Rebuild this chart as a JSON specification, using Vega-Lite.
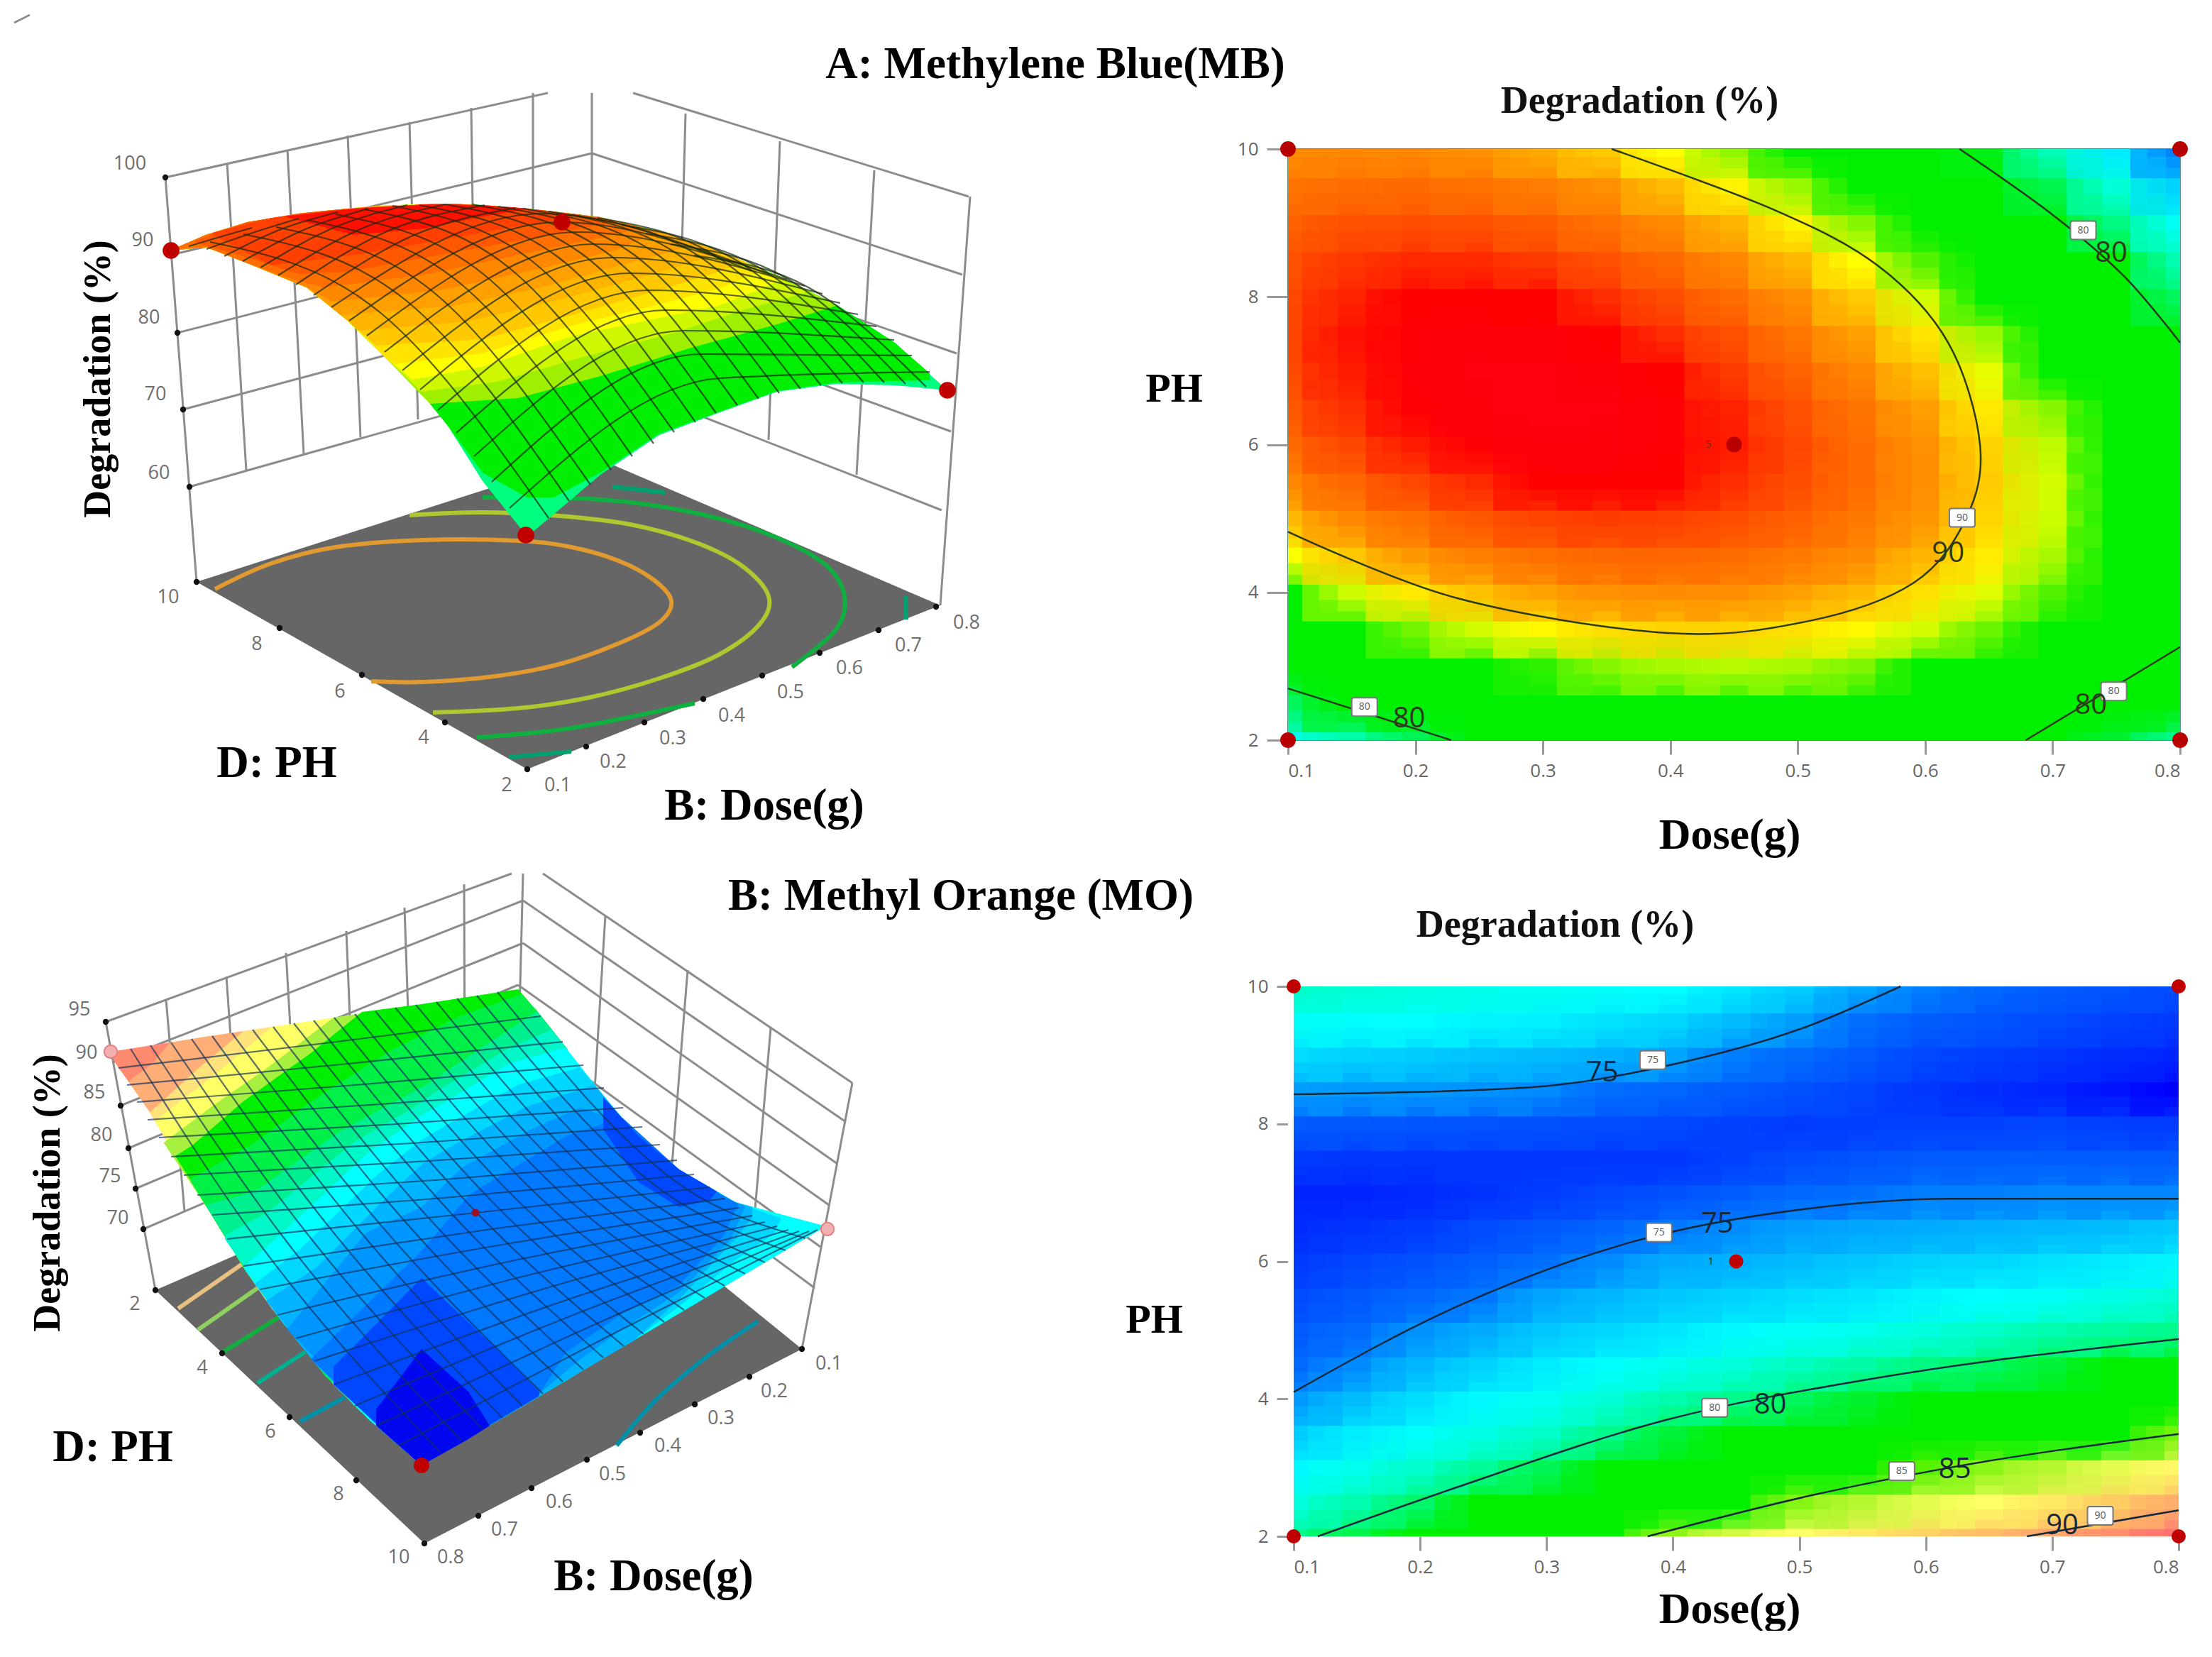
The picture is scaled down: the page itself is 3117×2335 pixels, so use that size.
{"$schema":"https://vega.github.io/schema/vega-lite/v6.json","background":"white","padding":0,"align":"none","bounds":"flush","columns":2,"spacing":{"row":347,"column":115},"resolve":{"scale":{"color":"independent"}},"config":{"view":{"stroke":null},"text":{"font":"Liberation Serif"}},
"datasets":{"heatA":[
{"b":0.1,"p":2,"d":73},{"b":0.15,"p":2,"d":75.2},{"b":0.2,"p":2,"d":77.1},{"b":0.25,"p":2,"d":78.7},{"b":0.3,"p":2,"d":80},{"b":0.35,"p":2,"d":81},{"b":0.4,"p":2,"d":81.7},{"b":0.45,"p":2,"d":82},{"b":0.5,"p":2,"d":82.1},{"b":0.55,"p":2,"d":81.8},{"b":0.6,"p":2,"d":81.3},{"b":0.65,"p":2,"d":80.4},{"b":0.7,"p":2,"d":79.2},{"b":0.75,"p":2,"d":77.7},{"b":0.8,"p":2,"d":75.9},
{"b":0.1,"p":2.5,"d":77},{"b":0.15,"p":2.5,"d":79},{"b":0.2,"p":2.5,"d":80.9},{"b":0.25,"p":2.5,"d":82.4},{"b":0.3,"p":2.5,"d":83.5},{"b":0.35,"p":2.5,"d":84.3},{"b":0.4,"p":2.5,"d":84.9},{"b":0.45,"p":2.5,"d":85.1},{"b":0.5,"p":2.5,"d":85.1},{"b":0.55,"p":2.5,"d":84.7},{"b":0.6,"p":2.5,"d":84},{"b":0.65,"p":2.5,"d":83},{"b":0.7,"p":2.5,"d":81.7},{"b":0.75,"p":2.5,"d":80},{"b":0.8,"p":2.5,"d":78.2},
{"b":0.1,"p":3,"d":80.6},{"b":0.15,"p":3,"d":82.5},{"b":0.2,"p":3,"d":84.2},{"b":0.25,"p":3,"d":85.6},{"b":0.3,"p":3,"d":86.6},{"b":0.35,"p":3,"d":87.3},{"b":0.4,"p":3,"d":87.7},{"b":0.45,"p":3,"d":87.9},{"b":0.5,"p":3,"d":87.7},{"b":0.55,"p":3,"d":87.2},{"b":0.6,"p":3,"d":86.4},{"b":0.65,"p":3,"d":85.2},{"b":0.7,"p":3,"d":83.8},{"b":0.75,"p":3,"d":82.1},{"b":0.8,"p":3,"d":80},
{"b":0.1,"p":3.5,"d":83.7},{"b":0.15,"p":3.5,"d":85.5},{"b":0.2,"p":3.5,"d":87.1},{"b":0.25,"p":3.5,"d":88.3},{"b":0.3,"p":3.5,"d":89.2},{"b":0.35,"p":3.5,"d":89.9},{"b":0.4,"p":3.5,"d":90.2},{"b":0.45,"p":3.5,"d":90.2},{"b":0.5,"p":3.5,"d":89.8},{"b":0.55,"p":3.5,"d":89.2},{"b":0.6,"p":3.5,"d":88.3},{"b":0.65,"p":3.5,"d":87},{"b":0.7,"p":3.5,"d":85.5},{"b":0.75,"p":3.5,"d":83.6},{"b":0.8,"p":3.5,"d":81.4},
{"b":0.1,"p":4,"d":86.5},{"b":0.15,"p":4,"d":88.2},{"b":0.2,"p":4,"d":89.6},{"b":0.25,"p":4,"d":90.7},{"b":0.3,"p":4,"d":91.5},{"b":0.35,"p":4,"d":92},{"b":0.4,"p":4,"d":92.2},{"b":0.45,"p":4,"d":92.1},{"b":0.5,"p":4,"d":91.6},{"b":0.55,"p":4,"d":90.9},{"b":0.6,"p":4,"d":89.8},{"b":0.65,"p":4,"d":88.5},{"b":0.7,"p":4,"d":86.8},{"b":0.75,"p":4,"d":84.8},{"b":0.8,"p":4,"d":82.5},
{"b":0.1,"p":4.5,"d":88.9},{"b":0.15,"p":4.5,"d":90.5},{"b":0.2,"p":4.5,"d":91.8},{"b":0.25,"p":4.5,"d":92.8},{"b":0.3,"p":4.5,"d":93.5},{"b":0.35,"p":4.5,"d":93.8},{"b":0.4,"p":4.5,"d":93.9},{"b":0.45,"p":4.5,"d":93.6},{"b":0.5,"p":4.5,"d":93.1},{"b":0.55,"p":4.5,"d":92.2},{"b":0.6,"p":4.5,"d":91},{"b":0.65,"p":4.5,"d":89.5},{"b":0.7,"p":4.5,"d":87.7},{"b":0.75,"p":4.5,"d":85.6},{"b":0.8,"p":4.5,"d":83.2},
{"b":0.1,"p":5,"d":90.9},{"b":0.15,"p":5,"d":92.4},{"b":0.2,"p":5,"d":93.5},{"b":0.25,"p":5,"d":94.4},{"b":0.3,"p":5,"d":95},{"b":0.35,"p":5,"d":95.2},{"b":0.4,"p":5,"d":95.1},{"b":0.45,"p":5,"d":94.7},{"b":0.5,"p":5,"d":94.1},{"b":0.55,"p":5,"d":93.1},{"b":0.6,"p":5,"d":91.8},{"b":0.65,"p":5,"d":90.1},{"b":0.7,"p":5,"d":88.2},{"b":0.75,"p":5,"d":86},{"b":0.8,"p":5,"d":83.4},
{"b":0.1,"p":5.5,"d":92.5},{"b":0.15,"p":5.5,"d":93.9},{"b":0.2,"p":5.5,"d":94.9},{"b":0.25,"p":5.5,"d":95.6},{"b":0.3,"p":5.5,"d":96},{"b":0.35,"p":5.5,"d":96.2},{"b":0.4,"p":5.5,"d":96},{"b":0.45,"p":5.5,"d":95.5},{"b":0.5,"p":5.5,"d":94.7},{"b":0.55,"p":5.5,"d":93.6},{"b":0.6,"p":5.5,"d":92.1},{"b":0.65,"p":5.5,"d":90.4},{"b":0.7,"p":5.5,"d":88.3},{"b":0.75,"p":5.5,"d":86},{"b":0.8,"p":5.5,"d":83.3},
{"b":0.1,"p":6,"d":93.7},{"b":0.15,"p":6,"d":94.9},{"b":0.2,"p":6,"d":95.8},{"b":0.25,"p":6,"d":96.4},{"b":0.3,"p":6,"d":96.7},{"b":0.35,"p":6,"d":96.7},{"b":0.4,"p":6,"d":96.4},{"b":0.45,"p":6,"d":95.8},{"b":0.5,"p":6,"d":94.9},{"b":0.55,"p":6,"d":93.6},{"b":0.6,"p":6,"d":92},{"b":0.65,"p":6,"d":90.2},{"b":0.7,"p":6,"d":88},{"b":0.75,"p":6,"d":85.5},{"b":0.8,"p":6,"d":82.8},
{"b":0.1,"p":6.5,"d":94.4},{"b":0.15,"p":6.5,"d":95.5},{"b":0.2,"p":6.5,"d":96.3},{"b":0.25,"p":6.5,"d":96.8},{"b":0.3,"p":6.5,"d":97},{"b":0.35,"p":6.5,"d":96.9},{"b":0.4,"p":6.5,"d":96.4},{"b":0.45,"p":6.5,"d":95.7},{"b":0.5,"p":6.5,"d":94.6},{"b":0.55,"p":6.5,"d":93.3},{"b":0.6,"p":6.5,"d":91.6},{"b":0.65,"p":6.5,"d":89.6},{"b":0.7,"p":6.5,"d":87.3},{"b":0.75,"p":6.5,"d":84.7},{"b":0.8,"p":6.5,"d":81.7},
{"b":0.1,"p":7,"d":94.8},{"b":0.15,"p":7,"d":95.8},{"b":0.2,"p":7,"d":96.5},{"b":0.25,"p":7,"d":96.9},{"b":0.3,"p":7,"d":96.9},{"b":0.35,"p":7,"d":96.7},{"b":0.4,"p":7,"d":96.1},{"b":0.45,"p":7,"d":95.2},{"b":0.5,"p":7,"d":94},{"b":0.55,"p":7,"d":92.5},{"b":0.6,"p":7,"d":90.7},{"b":0.65,"p":7,"d":88.6},{"b":0.7,"p":7,"d":86.2},{"b":0.75,"p":7,"d":83.4},{"b":0.8,"p":7,"d":80.4},
{"b":0.1,"p":7.5,"d":95},{"b":0.15,"p":7.5,"d":95.9},{"b":0.2,"p":7.5,"d":96.4},{"b":0.25,"p":7.5,"d":96.7},{"b":0.3,"p":7.5,"d":96.6},{"b":0.35,"p":7.5,"d":96.2},{"b":0.4,"p":7.5,"d":95.5},{"b":0.45,"p":7.5,"d":94.6},{"b":0.5,"p":7.5,"d":93.2},{"b":0.55,"p":7.5,"d":91.6},{"b":0.6,"p":7.5,"d":89.7},{"b":0.65,"p":7.5,"d":87.5},{"b":0.7,"p":7.5,"d":84.9},{"b":0.75,"p":7.5,"d":82.1},{"b":0.8,"p":7.5,"d":78.9},
{"b":0.1,"p":8,"d":94.9},{"b":0.15,"p":8,"d":95.7},{"b":0.2,"p":8,"d":96.1},{"b":0.25,"p":8,"d":96.2},{"b":0.3,"p":8,"d":96},{"b":0.35,"p":8,"d":95.5},{"b":0.4,"p":8,"d":94.7},{"b":0.45,"p":8,"d":93.6},{"b":0.5,"p":8,"d":92.1},{"b":0.55,"p":8,"d":90.4},{"b":0.6,"p":8,"d":88.3},{"b":0.65,"p":8,"d":86},{"b":0.7,"p":8,"d":83.3},{"b":0.75,"p":8,"d":80.3},{"b":0.8,"p":8,"d":77},
{"b":0.1,"p":8.5,"d":94.6},{"b":0.15,"p":8.5,"d":95.3},{"b":0.2,"p":8.5,"d":95.6},{"b":0.25,"p":8.5,"d":95.6},{"b":0.3,"p":8.5,"d":95.2},{"b":0.35,"p":8.5,"d":94.6},{"b":0.4,"p":8.5,"d":93.7},{"b":0.45,"p":8.5,"d":92.4},{"b":0.5,"p":8.5,"d":90.9},{"b":0.55,"p":8.5,"d":89},{"b":0.6,"p":8.5,"d":86.8},{"b":0.65,"p":8.5,"d":84.3},{"b":0.7,"p":8.5,"d":81.6},{"b":0.75,"p":8.5,"d":78.4},{"b":0.8,"p":8.5,"d":75},
{"b":0.1,"p":9,"d":94.1},{"b":0.15,"p":9,"d":94.6},{"b":0.2,"p":9,"d":94.7},{"b":0.25,"p":9,"d":94.6},{"b":0.3,"p":9,"d":94.2},{"b":0.35,"p":9,"d":93.4},{"b":0.4,"p":9,"d":92.3},{"b":0.45,"p":9,"d":91},{"b":0.5,"p":9,"d":89.3},{"b":0.55,"p":9,"d":87.3},{"b":0.6,"p":9,"d":85},{"b":0.65,"p":9,"d":82.4},{"b":0.7,"p":9,"d":79.4},{"b":0.75,"p":9,"d":76.2},{"b":0.8,"p":9,"d":72.7},
{"b":0.1,"p":9.5,"d":93.3},{"b":0.15,"p":9.5,"d":93.6},{"b":0.2,"p":9.5,"d":93.7},{"b":0.25,"p":9.5,"d":93.4},{"b":0.3,"p":9.5,"d":92.9},{"b":0.35,"p":9.5,"d":92},{"b":0.4,"p":9.5,"d":90.8},{"b":0.45,"p":9.5,"d":89.3},{"b":0.5,"p":9.5,"d":87.5},{"b":0.55,"p":9.5,"d":85.4},{"b":0.6,"p":9.5,"d":83},{"b":0.65,"p":9.5,"d":80.2},{"b":0.7,"p":9.5,"d":77.2},{"b":0.75,"p":9.5,"d":73.8},{"b":0.8,"p":9.5,"d":70.2},
{"b":0.1,"p":10,"d":92.2},{"b":0.15,"p":10,"d":92.5},{"b":0.2,"p":10,"d":92.4},{"b":0.25,"p":10,"d":92},{"b":0.3,"p":10,"d":91.3},{"b":0.35,"p":10,"d":90.4},{"b":0.4,"p":10,"d":89},{"b":0.45,"p":10,"d":87.4},{"b":0.5,"p":10,"d":85.5},{"b":0.55,"p":10,"d":83.3},{"b":0.6,"p":10,"d":80.7},{"b":0.65,"p":10,"d":77.9},{"b":0.7,"p":10,"d":74.7},{"b":0.75,"p":10,"d":71.2},{"b":0.8,"p":10,"d":67.5}
],"heatB":[
{"b":0.1,"p":2,"d":79.6},{"b":0.15,"p":2,"d":80.5},{"b":0.2,"p":2,"d":81.5},{"b":0.25,"p":2,"d":82.5},{"b":0.3,"p":2,"d":83.5},{"b":0.35,"p":2,"d":84.4},{"b":0.4,"p":2,"d":85.3},{"b":0.45,"p":2,"d":86.2},{"b":0.5,"p":2,"d":87},{"b":0.55,"p":2,"d":87.6},{"b":0.6,"p":2,"d":88.3},{"b":0.65,"p":2,"d":89},{"b":0.7,"p":2,"d":89.7},{"b":0.75,"p":2,"d":90.8},{"b":0.8,"p":2,"d":92},
{"b":0.1,"p":2.5,"d":78},{"b":0.15,"p":2.5,"d":79},{"b":0.2,"p":2.5,"d":80.1},{"b":0.25,"p":2.5,"d":81},{"b":0.3,"p":2.5,"d":82},{"b":0.35,"p":2.5,"d":82.7},{"b":0.4,"p":2.5,"d":83.5},{"b":0.45,"p":2.5,"d":84.3},{"b":0.5,"p":2.5,"d":85.2},{"b":0.55,"p":2.5,"d":85.8},{"b":0.6,"p":2.5,"d":86.5},{"b":0.65,"p":2.5,"d":87},{"b":0.7,"p":2.5,"d":87.6},{"b":0.75,"p":2.5,"d":88.5},{"b":0.8,"p":2.5,"d":89.5},
{"b":0.1,"p":3,"d":76.9},{"b":0.15,"p":3,"d":77.6},{"b":0.2,"p":3,"d":78.4},{"b":0.25,"p":3,"d":79.4},{"b":0.3,"p":3,"d":80.4},{"b":0.35,"p":3,"d":81.2},{"b":0.4,"p":3,"d":82},{"b":0.45,"p":3,"d":82.7},{"b":0.5,"p":3,"d":83.5},{"b":0.55,"p":3,"d":84.1},{"b":0.6,"p":3,"d":84.8},{"b":0.65,"p":3,"d":85.3},{"b":0.7,"p":3,"d":85.8},{"b":0.75,"p":3,"d":86.5},{"b":0.8,"p":3,"d":87.2},
{"b":0.1,"p":3.5,"d":76},{"b":0.15,"p":3.5,"d":76.6},{"b":0.2,"p":3.5,"d":77.2},{"b":0.25,"p":3.5,"d":77.8},{"b":0.3,"p":3.5,"d":78.5},{"b":0.35,"p":3.5,"d":79.6},{"b":0.4,"p":3.5,"d":80.7},{"b":0.45,"p":3.5,"d":81.1},{"b":0.5,"p":3.5,"d":81.6},{"b":0.55,"p":3.5,"d":82.2},{"b":0.6,"p":3.5,"d":82.9},{"b":0.65,"p":3.5,"d":83.4},{"b":0.7,"p":3.5,"d":84},{"b":0.75,"p":3.5,"d":84.5},{"b":0.8,"p":3.5,"d":85},
{"b":0.1,"p":4,"d":75.1},{"b":0.15,"p":4,"d":75.7},{"b":0.2,"p":4,"d":76.3},{"b":0.25,"p":4,"d":76.9},{"b":0.3,"p":4,"d":77.5},{"b":0.35,"p":4,"d":78.2},{"b":0.4,"p":4,"d":79},{"b":0.45,"p":4,"d":79.6},{"b":0.5,"p":4,"d":80.3},{"b":0.55,"p":4,"d":80.8},{"b":0.6,"p":4,"d":81.3},{"b":0.65,"p":4,"d":81.8},{"b":0.7,"p":4,"d":82.4},{"b":0.75,"p":4,"d":82.7},{"b":0.8,"p":4,"d":83},
{"b":0.1,"p":4.5,"d":74.2},{"b":0.15,"p":4.5,"d":74.9},{"b":0.2,"p":4.5,"d":75.6},{"b":0.25,"p":4.5,"d":76.1},{"b":0.3,"p":4.5,"d":76.6},{"b":0.35,"p":4.5,"d":77.1},{"b":0.4,"p":4.5,"d":77.6},{"b":0.45,"p":4.5,"d":78.1},{"b":0.5,"p":4.5,"d":78.7},{"b":0.55,"p":4.5,"d":79.2},{"b":0.6,"p":4.5,"d":79.8},{"b":0.65,"p":4.5,"d":80.2},{"b":0.7,"p":4.5,"d":80.7},{"b":0.75,"p":4.5,"d":81},{"b":0.8,"p":4.5,"d":81.3},
{"b":0.1,"p":5,"d":73.4},{"b":0.15,"p":5,"d":74.2},{"b":0.2,"p":5,"d":75},{"b":0.25,"p":5,"d":75.4},{"b":0.3,"p":5,"d":75.9},{"b":0.35,"p":5,"d":76.2},{"b":0.4,"p":5,"d":76.5},{"b":0.45,"p":5,"d":76.9},{"b":0.5,"p":5,"d":77.3},{"b":0.55,"p":5,"d":77.6},{"b":0.6,"p":5,"d":78},{"b":0.65,"p":5,"d":78.5},{"b":0.7,"p":5,"d":79},{"b":0.75,"p":5,"d":79.3},{"b":0.8,"p":5,"d":79.6},
{"b":0.1,"p":5.5,"d":72.7},{"b":0.15,"p":5.5,"d":73.3},{"b":0.2,"p":5.5,"d":74},{"b":0.25,"p":5.5,"d":74.6},{"b":0.3,"p":5.5,"d":75.3},{"b":0.35,"p":5.5,"d":75.6},{"b":0.4,"p":5.5,"d":75.9},{"b":0.45,"p":5.5,"d":76.1},{"b":0.5,"p":5.5,"d":76.3},{"b":0.55,"p":5.5,"d":76.5},{"b":0.6,"p":5.5,"d":76.8},{"b":0.65,"p":5.5,"d":77},{"b":0.7,"p":5.5,"d":77.3},{"b":0.75,"p":5.5,"d":77.8},{"b":0.8,"p":5.5,"d":78.2},
{"b":0.1,"p":6,"d":72.1},{"b":0.15,"p":6,"d":72.5},{"b":0.2,"p":6,"d":73},{"b":0.25,"p":6,"d":73.7},{"b":0.3,"p":6,"d":74.5},{"b":0.35,"p":6,"d":74.9},{"b":0.4,"p":6,"d":75.4},{"b":0.45,"p":6,"d":75.5},{"b":0.5,"p":6,"d":75.7},{"b":0.55,"p":6,"d":75.9},{"b":0.6,"p":6,"d":76.1},{"b":0.65,"p":6,"d":76.2},{"b":0.7,"p":6,"d":76.4},{"b":0.75,"p":6,"d":76.6},{"b":0.8,"p":6,"d":76.8},
{"b":0.1,"p":6.5,"d":71.7},{"b":0.15,"p":6.5,"d":71.9},{"b":0.2,"p":6.5,"d":72.2},{"b":0.25,"p":6.5,"d":72.7},{"b":0.3,"p":6.5,"d":73.3},{"b":0.35,"p":6.5,"d":73.9},{"b":0.4,"p":6.5,"d":74.6},{"b":0.45,"p":6.5,"d":74.9},{"b":0.5,"p":6.5,"d":75.2},{"b":0.55,"p":6.5,"d":75.3},{"b":0.6,"p":6.5,"d":75.4},{"b":0.65,"p":6.5,"d":75.5},{"b":0.7,"p":6.5,"d":75.6},{"b":0.75,"p":6.5,"d":75.7},{"b":0.8,"p":6.5,"d":75.9},
{"b":0.1,"p":7,"d":71.5},{"b":0.15,"p":7,"d":71.5},{"b":0.2,"p":7,"d":71.6},{"b":0.25,"p":7,"d":71.9},{"b":0.3,"p":7,"d":72.2},{"b":0.35,"p":7,"d":72.6},{"b":0.4,"p":7,"d":73},{"b":0.45,"p":7,"d":73.5},{"b":0.5,"p":7,"d":74.1},{"b":0.55,"p":7,"d":74.4},{"b":0.6,"p":7,"d":74.7},{"b":0.65,"p":7,"d":74.7},{"b":0.7,"p":7,"d":74.8},{"b":0.75,"p":7,"d":74.8},{"b":0.8,"p":7,"d":74.8},
{"b":0.1,"p":7.5,"d":72.1},{"b":0.15,"p":7.5,"d":72},{"b":0.2,"p":7.5,"d":72},{"b":0.25,"p":7.5,"d":72},{"b":0.3,"p":7.5,"d":72},{"b":0.35,"p":7.5,"d":72},{"b":0.4,"p":7.5,"d":72},{"b":0.45,"p":7.5,"d":72.4},{"b":0.5,"p":7.5,"d":72.8},{"b":0.55,"p":7.5,"d":73.1},{"b":0.6,"p":7.5,"d":73.4},{"b":0.65,"p":7.5,"d":73.5},{"b":0.7,"p":7.5,"d":73.6},{"b":0.75,"p":7.5,"d":73.5},{"b":0.8,"p":7.5,"d":73.5},
{"b":0.1,"p":8,"d":73.4},{"b":0.15,"p":8,"d":73.3},{"b":0.2,"p":8,"d":73.2},{"b":0.25,"p":8,"d":73.1},{"b":0.3,"p":8,"d":73},{"b":0.35,"p":8,"d":72.8},{"b":0.4,"p":8,"d":72.6},{"b":0.45,"p":8,"d":72.4},{"b":0.5,"p":8,"d":72.2},{"b":0.55,"p":8,"d":72.3},{"b":0.6,"p":8,"d":72.4},{"b":0.65,"p":8,"d":72.4},{"b":0.7,"p":8,"d":72.5},{"b":0.75,"p":8,"d":72.3},{"b":0.8,"p":8,"d":72.2},
{"b":0.1,"p":8.5,"d":75.2},{"b":0.15,"p":8.5,"d":75.1},{"b":0.2,"p":8.5,"d":75.1},{"b":0.25,"p":8.5,"d":75},{"b":0.3,"p":8.5,"d":74.9},{"b":0.35,"p":8.5,"d":74.4},{"b":0.4,"p":8.5,"d":74},{"b":0.45,"p":8.5,"d":73.5},{"b":0.5,"p":8.5,"d":73},{"b":0.55,"p":8.5,"d":72.5},{"b":0.6,"p":8.5,"d":72},{"b":0.65,"p":8.5,"d":71.7},{"b":0.7,"p":8.5,"d":71.5},{"b":0.75,"p":8.5,"d":71.2},{"b":0.8,"p":8.5,"d":71},
{"b":0.1,"p":9,"d":76.3},{"b":0.15,"p":9,"d":76.1},{"b":0.2,"p":9,"d":76},{"b":0.25,"p":9,"d":75.8},{"b":0.3,"p":9,"d":75.7},{"b":0.35,"p":9,"d":75.5},{"b":0.4,"p":9,"d":75.3},{"b":0.45,"p":9,"d":74.7},{"b":0.5,"p":9,"d":74.2},{"b":0.55,"p":9,"d":73.4},{"b":0.6,"p":9,"d":72.6},{"b":0.65,"p":9,"d":72.3},{"b":0.7,"p":9,"d":72},{"b":0.75,"p":9,"d":71.7},{"b":0.8,"p":9,"d":71.5},
{"b":0.1,"p":9.5,"d":77.3},{"b":0.15,"p":9.5,"d":77.1},{"b":0.2,"p":9.5,"d":77},{"b":0.25,"p":9.5,"d":76.8},{"b":0.3,"p":9.5,"d":76.7},{"b":0.35,"p":9.5,"d":76.4},{"b":0.4,"p":9.5,"d":76.2},{"b":0.45,"p":9.5,"d":75.7},{"b":0.5,"p":9.5,"d":75.2},{"b":0.55,"p":9.5,"d":74.4},{"b":0.6,"p":9.5,"d":73.6},{"b":0.65,"p":9.5,"d":73.2},{"b":0.7,"p":9.5,"d":72.8},{"b":0.75,"p":9.5,"d":72.4},{"b":0.8,"p":9.5,"d":72.1},
{"b":0.1,"p":10,"d":78.5},{"b":0.15,"p":10,"d":78.2},{"b":0.2,"p":10,"d":78},{"b":0.25,"p":10,"d":77.7},{"b":0.3,"p":10,"d":77.5},{"b":0.35,"p":10,"d":77.2},{"b":0.4,"p":10,"d":77},{"b":0.45,"p":10,"d":76.5},{"b":0.5,"p":10,"d":76},{"b":0.55,"p":10,"d":75.3},{"b":0.6,"p":10,"d":74.7},{"b":0.65,"p":10,"d":74.1},{"b":0.7,"p":10,"d":73.5},{"b":0.75,"p":10,"d":73.1},{"b":0.8,"p":10,"d":72.8}
]},
"concat":[
{"width":1700,"height":833,"resolve":{"scale":{"color":"independent"}},"encoding":{"x":{"field":"x","type":"quantitative","scale":{"domain":[0,1700],"nice":false,"zero":false},"axis":null},"y":{"field":"y","type":"quantitative","scale":{"domain":[1042,209],"nice":false,"zero":false},"axis":null}},"layer":[
{"data":{"values":[{"x":0,"y":0,"x2":1700,"y2":1170}]},"mark":{"type":"rect","fill":"white"},"encoding":{"x2":{"field":"x2"},"y2":{"field":"y2"}}},
{"data":{"values":[{"g":"m","x":20,"y":31},{"g":"m","x":42,"y":20},{"g":"l100","x":233,"y":249},{"g":"l100","x":772,"y":130},{"g":"l90","x":242,"y":358},{"g":"l90","x":834,"y":215},{"g":"l80","x":250,"y":468},{"g":"l80","x":834,"y":318},{"g":"l70","x":258,"y":576},{"g":"l70","x":834,"y":422},{"g":"l60","x":267,"y":685},{"g":"l60","x":834,"y":525},{"g":"r100","x":892,"y":130},{"g":"r100","x":1365,"y":276},{"g":"r90","x":834,"y":215},{"g":"r90","x":1356,"y":386},{"g":"r80","x":834,"y":318},{"g":"r80","x":1348,"y":497},{"g":"r70","x":834,"y":422},{"g":"r70","x":1340,"y":607},{"g":"r60","x":834,"y":525},{"g":"r60","x":1327,"y":718},{"g":"c1","x":233,"y":249},{"g":"c1","x":277,"y":819},{"g":"c2","x":834,"y":130},{"g":"c2","x":834,"y":641},{"g":"c3","x":1367,"y":276},{"g":"c3","x":1325,"y":852},{"g":"v1","x":320,"y":229},{"g":"v1","x":347,"y":662},{"g":"v2","x":405,"y":210},{"g":"v2","x":428,"y":639},{"g":"v3","x":490,"y":190},{"g":"v3","x":508,"y":615},{"g":"v4","x":577,"y":171},{"g":"v4","x":589,"y":590},{"g":"v5","x":664,"y":151},{"g":"v5","x":670,"y":571},{"g":"v6","x":751,"y":130},{"g":"v6","x":751,"y":548},{"g":"w1","x":966,"y":159},{"g":"w1","x":955,"y":572},{"g":"w2","x":1099,"y":198},{"g":"w2","x":1083,"y":619},{"g":"w3","x":1232,"y":239},{"g":"w3","x":1207,"y":668}]},"mark":{"type":"line","color":"#8c8c8c","strokeWidth":3},"encoding":{"detail":{"field":"g"}}},
{"data":{"values":[{"x":277,"y":819,"y2":819},{"x":743,"y":670,"y2":1083},{"x":833,"y":641,"y2":1047},{"x":1325,"y":852,"y2":852}]},"mark":{"type":"area","color":"#666666"},"encoding":{"y2":{"field":"y2"}}},
{"data":{"values":[{"g":"o","d":92,"x":303,"y":829},{"g":"o","d":92,"x":382,"y":793},{"g":"o","d":92,"x":473,"y":770},{"g":"o","d":92,"x":597,"y":760},{"g":"o","d":92,"x":730,"y":761},{"g":"o","d":92,"x":805,"y":770},{"g":"o","d":92,"x":871,"y":789},{"g":"o","d":92,"x":921,"y":816},{"g":"o","d":92,"x":946,"y":846},{"g":"o","d":92,"x":929,"y":876},{"g":"o","d":92,"x":871,"y":906},{"g":"o","d":92,"x":788,"y":935},{"g":"o","d":92,"x":697,"y":952},{"g":"o","d":92,"x":597,"y":960},{"g":"o","d":92,"x":523,"y":959},{"g":"y","d":88,"x":577,"y":725},{"g":"y","d":88,"x":680,"y":721},{"g":"y","d":88,"x":788,"y":726},{"g":"y","d":88,"x":888,"y":738},{"g":"y","d":88,"x":979,"y":763},{"g":"y","d":88,"x":1045,"y":796},{"g":"y","d":88,"x":1083,"y":839},{"g":"y","d":88,"x":1070,"y":879},{"g":"y","d":88,"x":1012,"y":922},{"g":"y","d":88,"x":929,"y":955},{"g":"y","d":88,"x":830,"y":982},{"g":"y","d":88,"x":730,"y":997},{"g":"y","d":88,"x":610,"y":1003},{"g":"g1","d":83,"x":680,"y":700},{"g":"g1","d":83,"x":846,"y":703},{"g":"g1","d":83,"x":971,"y":720},{"g":"g1","d":83,"x":1078,"y":750},{"g":"g1","d":83,"x":1161,"y":793},{"g":"g1","d":83,"x":1190,"y":839},{"g":"g1","d":83,"x":1178,"y":886},{"g":"g1","d":83,"x":1116,"y":939},{"g":"g2","d":83,"x":672,"y":1038},{"g":"g2","d":83,"x":805,"y":1025},{"g":"g2","d":83,"x":979,"y":990},{"g":"t1","d":78,"x":863,"y":685},{"g":"t1","d":78,"x":937,"y":693},{"g":"t2","d":78,"x":1277,"y":839},{"g":"t2","d":78,"x":1277,"y":872},{"g":"t3","d":78,"x":718,"y":1066},{"g":"t3","d":78,"x":805,"y":1058}]},"mark":{"type":"line","strokeWidth":6,"interpolate":"cardinal"},"encoding":{"detail":{"field":"g"},"order":{"value":null},"color":{"field":"d","type":"ordinal","legend":null,"scale":{"domain":[92,88,83,78],"range":["#e09a30","#b0c830","#10b040","#00a070"]}}}},
{"data":{"values":[
{"d":74,"x":241,"y":352,"y2":352},{"d":74,"x":290,"y":330,"y2":347},{"d":74,"x":349,"y":312,"y2":370},{"d":74,"x":432,"y":299,"y2":404},{"d":74,"x":490,"y":293,"y2":451},{"d":74,"x":539,"y":289,"y2":499},{"d":74,"x":589,"y":287,"y2":547},{"d":74,"x":631,"y":286,"y2":599},{"d":74,"x":680,"y":288,"y2":677},{"d":74,"x":743,"y":293,"y2":755},{"d":74,"x":780,"y":297,"y2":724},{"d":74,"x":846,"y":305,"y2":668},{"d":74,"x":929,"y":325,"y2":612},{"d":74,"x":1012,"y":352,"y2":581},{"d":74,"x":1095,"y":387,"y2":551},{"d":74,"x":1178,"y":428,"y2":540},{"d":74,"x":1261,"y":482,"y2":542},{"d":74,"x":1335,"y":549,"y2":549},
{"d":78,"x":241,"y":352,"y2":352},{"d":78,"x":290,"y":330,"y2":347},{"d":78,"x":349,"y":312,"y2":370},{"d":78,"x":432,"y":299,"y2":404},{"d":78,"x":490,"y":293,"y2":451},{"d":78,"x":539,"y":289,"y2":499},{"d":78,"x":589,"y":287,"y2":547},{"d":78,"x":631,"y":286,"y2":599},{"d":78,"x":680,"y":288,"y2":665},{"d":78,"x":743,"y":293,"y2":700},{"d":78,"x":780,"y":297,"y2":700},{"d":78,"x":846,"y":305,"y2":665},{"d":78,"x":929,"y":325,"y2":610},{"d":78,"x":1012,"y":352,"y2":580},{"d":78,"x":1095,"y":387,"y2":550},{"d":78,"x":1178,"y":428,"y2":538},{"d":78,"x":1261,"y":482,"y2":536},{"d":78,"x":1310,"y":525,"y2":535},
{"d":84,"x":241,"y":352,"y2":352},{"d":84,"x":290,"y":330,"y2":347},{"d":84,"x":349,"y":312,"y2":370},{"d":84,"x":432,"y":299,"y2":404},{"d":84,"x":490,"y":293,"y2":451},{"d":84,"x":539,"y":289,"y2":499},{"d":84,"x":606,"y":287,"y2":568},{"d":84,"x":730,"y":292,"y2":560},{"d":84,"x":846,"y":305,"y2":529},{"d":84,"x":971,"y":338,"y2":490},{"d":84,"x":1095,"y":387,"y2":456},{"d":84,"x":1178,"y":428,"y2":430},
{"d":85.5,"x":241,"y":352,"y2":352},{"d":85.5,"x":290,"y":330,"y2":347},{"d":85.5,"x":349,"y":312,"y2":370},{"d":85.5,"x":432,"y":299,"y2":404},{"d":85.5,"x":490,"y":293,"y2":451},{"d":85.5,"x":539,"y":289,"y2":499},{"d":85.5,"x":594,"y":287,"y2":551},{"d":85.5,"x":700,"y":290,"y2":537},{"d":85.5,"x":825,"y":303,"y2":501},{"d":85.5,"x":950,"y":332,"y2":468},{"d":85.5,"x":1050,"y":370,"y2":435},{"d":85.5,"x":1140,"y":410,"y2":410},
{"d":87,"x":241,"y":352,"y2":352},{"d":87,"x":290,"y":330,"y2":347},{"d":87,"x":349,"y":312,"y2":370},{"d":87,"x":432,"y":299,"y2":404},{"d":87,"x":490,"y":293,"y2":451},{"d":87,"x":539,"y":289,"y2":499},{"d":87,"x":581,"y":287,"y2":534},{"d":87,"x":680,"y":288,"y2":516},{"d":87,"x":805,"y":300,"y2":473},{"d":87,"x":929,"y":325,"y2":447},{"d":87,"x":1012,"y":352,"y2":430},{"d":87,"x":1078,"y":380,"y2":404},{"d":87,"x":1103,"y":392,"y2":392},
{"d":88,"x":241,"y":352,"y2":352},{"d":88,"x":290,"y":330,"y2":347},{"d":88,"x":349,"y":312,"y2":370},{"d":88,"x":432,"y":299,"y2":404},{"d":88,"x":490,"y":293,"y2":451},{"d":88,"x":539,"y":289,"y2":499},{"d":88,"x":556,"y":288,"y2":512},{"d":88,"x":680,"y":288,"y2":497},{"d":88,"x":805,"y":300,"y2":458},{"d":88,"x":929,"y":325,"y2":428},{"d":88,"x":1012,"y":352,"y2":406},{"d":88,"x":1075,"y":379,"y2":380},
{"d":89,"x":241,"y":352,"y2":352},{"d":89,"x":290,"y":330,"y2":347},{"d":89,"x":349,"y":312,"y2":370},{"d":89,"x":432,"y":299,"y2":404},{"d":89,"x":490,"y":293,"y2":451},{"d":89,"x":530,"y":289,"y2":486},{"d":89,"x":680,"y":288,"y2":477},{"d":89,"x":805,"y":300,"y2":443},{"d":89,"x":929,"y":325,"y2":408},{"d":89,"x":1012,"y":352,"y2":382},{"d":89,"x":1050,"y":368,"y2":368},
{"d":90,"x":241,"y":352,"y2":352},{"d":90,"x":290,"y":330,"y2":347},{"d":90,"x":349,"y":312,"y2":370},{"d":90,"x":432,"y":299,"y2":404},{"d":90,"x":490,"y":293,"y2":451},{"d":90,"x":505,"y":292,"y2":465},{"d":90,"x":660,"y":287,"y2":452},{"d":90,"x":785,"y":298,"y2":422},{"d":90,"x":910,"y":321,"y2":388},{"d":90,"x":990,"y":345,"y2":364},{"d":90,"x":1020,"y":355,"y2":355},
{"d":91,"x":241,"y":352,"y2":352},{"d":91,"x":290,"y":330,"y2":347},{"d":91,"x":349,"y":312,"y2":370},{"d":91,"x":432,"y":299,"y2":404},{"d":91,"x":480,"y":294,"y2":443},{"d":91,"x":639,"y":286,"y2":430},{"d":91,"x":763,"y":295,"y2":404},{"d":91,"x":888,"y":315,"y2":369},{"d":91,"x":971,"y":338,"y2":347},{"d":91,"x":990,"y":345,"y2":345},
{"d":92,"x":241,"y":352,"y2":352},{"d":92,"x":290,"y":330,"y2":347},{"d":92,"x":349,"y":312,"y2":370},{"d":92,"x":432,"y":299,"y2":404},{"d":92,"x":468,"y":295,"y2":424},{"d":92,"x":620,"y":286,"y2":408},{"d":92,"x":742,"y":293,"y2":382},{"d":92,"x":866,"y":310,"y2":352},{"d":92,"x":930,"y":326,"y2":326},
{"d":93,"x":250,"y":347,"y2":350},{"d":93,"x":290,"y":330,"y2":347},{"d":93,"x":349,"y":312,"y2":370},{"d":93,"x":420,"y":300,"y2":395},{"d":93,"x":457,"y":296,"y2":404},{"d":93,"x":598,"y":287,"y2":386},{"d":93,"x":722,"y":291,"y2":360},{"d":93,"x":846,"y":305,"y2":334},{"d":93,"x":905,"y":320,"y2":320},
{"d":94,"x":275,"y":338,"y2":340},{"d":94,"x":349,"y":312,"y2":362},{"d":94,"x":420,"y":300,"y2":385},{"d":94,"x":490,"y":293,"y2":382},{"d":94,"x":620,"y":286,"y2":358},{"d":94,"x":742,"y":293,"y2":336},{"d":94,"x":834,"y":304,"y2":318},{"d":94,"x":870,"y":311,"y2":311},
{"d":95,"x":300,"y":327,"y2":330},{"d":95,"x":382,"y":306,"y2":373},{"d":95,"x":515,"y":291,"y2":356},{"d":95,"x":639,"y":286,"y2":334},{"d":95,"x":763,"y":295,"y2":312},{"d":95,"x":821,"y":302,"y2":302},
{"d":97,"x":400,"y":304,"y2":304},{"d":97,"x":498,"y":293,"y2":330},{"d":97,"x":598,"y":287,"y2":321},{"d":97,"x":680,"y":288,"y2":304},{"d":97,"x":747,"y":293,"y2":293}
]},"mark":{"type":"area"},"encoding":{"y2":{"field":"y2"},"color":{"field":"d","type":"ordinal","legend":null,"scale":{"domain":[74,78,84,85.5,87,88,89,90,91,92,93,94,95,97],"range":["#00ff7f","#00ee00","#9ff000","#cff800","#ffff00","#ffe400","#ffc800","#ffb400","#ffa000","#ff8800","#ff7000","#ff5800","#ff4000","#ff1000"]}}}},
{"data":{"values":[
{"g":"a1","x":773,"y":729},{"g":"a1","x":534,"y":438},{"g":"a1","x":296,"y":340},{"g":"a2","x":802,"y":705},{"g":"a2","x":573,"y":423},{"g":"a2","x":343,"y":329},{"g":"a3","x":832,"y":682},{"g":"a3","x":610,"y":410},{"g":"a3","x":389,"y":319},{"g":"a4","x":861,"y":661},{"g":"a4","x":647,"y":397},{"g":"a4","x":432,"y":309},{"g":"a5","x":891,"y":642},{"g":"a5","x":682,"y":386},{"g":"a5","x":473,"y":301},{"g":"a6","x":921,"y":624},{"g":"a6","x":717,"y":376},{"g":"a6","x":514,"y":294},{"g":"a7","x":950,"y":608},{"g":"a7","x":751,"y":368},{"g":"a7","x":553,"y":289},{"g":"a8","x":980,"y":594},{"g":"a8","x":786,"y":361},{"g":"a8","x":591,"y":288},{"g":"a9","x":1009,"y":581},{"g":"a9","x":819,"y":356},{"g":"a9","x":628,"y":287},{"g":"a10","x":1039,"y":570},{"g":"a10","x":852,"y":353},{"g":"a10","x":665,"y":287},{"g":"a11","x":1069,"y":561},{"g":"a11","x":885,"y":352},{"g":"a11","x":702,"y":290},{"g":"a12","x":1098,"y":553},{"g":"a12","x":918,"y":352},{"g":"a12","x":737,"y":293},{"g":"a13","x":1128,"y":547},{"g":"a13","x":950,"y":354},{"g":"a13","x":773,"y":297},{"g":"a14","x":1157,"y":542},{"g":"a14","x":982,"y":358},{"g":"a14","x":807,"y":302},{"g":"a15","x":1187,"y":539},{"g":"a15","x":1015,"y":364},{"g":"a15","x":842,"y":306},{"g":"a16","x":1217,"y":538},{"g":"a16","x":1046,"y":371},{"g":"a16","x":876,"y":316},{"g":"a17","x":1246,"y":538},{"g":"a17","x":1078,"y":381},{"g":"a17","x":910,"y":328},{"g":"a18","x":1276,"y":540},{"g":"a18","x":1110,"y":392},{"g":"a18","x":945,"y":343},{"g":"a19","x":1305,"y":544},{"g":"a19","x":1141,"y":405},{"g":"a19","x":978,"y":359},
{"g":"b1","x":718,"y":715},{"g":"b1","x":1014,"y":532},{"g":"b1","x":1310,"y":523},{"g":"b2","x":693,"y":678},{"g":"b2","x":989,"y":498},{"g":"b2","x":1285,"y":500},{"g":"b3","x":668,"y":642},{"g":"b3","x":964,"y":465},{"g":"b3","x":1260,"y":478},{"g":"b4","x":643,"y":609},{"g":"b4","x":939,"y":436},{"g":"b4","x":1235,"y":459},{"g":"b5","x":617,"y":577},{"g":"b5","x":913,"y":408},{"g":"b5","x":1209,"y":442},{"g":"b6","x":592,"y":548},{"g":"b6","x":888,"y":384},{"g":"b6","x":1184,"y":426},{"g":"b7","x":567,"y":521},{"g":"b7","x":863,"y":362},{"g":"b7","x":1159,"y":413},{"g":"b8","x":542,"y":495},{"g":"b8","x":838,"y":343},{"g":"b8","x":1134,"y":402},{"g":"b9","x":517,"y":472},{"g":"b9","x":813,"y":326},{"g":"b9","x":1109,"y":393},{"g":"b10","x":492,"y":451},{"g":"b10","x":788,"y":312},{"g":"b10","x":1084,"y":386},{"g":"b11","x":467,"y":432},{"g":"b11","x":763,"y":300},{"g":"b11","x":1059,"y":381},{"g":"b12","x":442,"y":415},{"g":"b12","x":584,"y":330},{"g":"b12","x":726,"y":292},{"g":"b13","x":417,"y":400},{"g":"b13","x":550,"y":323},{"g":"b13","x":683,"y":288},{"g":"b14","x":392,"y":387},{"g":"b14","x":510,"y":321},{"g":"b14","x":628,"y":287},{"g":"b15","x":367,"y":376},{"g":"b15","x":470,"y":320},{"g":"b15","x":574,"y":288},{"g":"b16","x":342,"y":367},{"g":"b16","x":430,"y":322},{"g":"b16","x":519,"y":293},{"g":"b17","x":316,"y":360},{"g":"b17","x":396,"y":322},{"g":"b17","x":476,"y":298},{"g":"b18","x":291,"y":350},{"g":"b18","x":356,"y":327},{"g":"b18","x":421,"y":307},{"g":"b19","x":266,"y":346},{"g":"b19","x":313,"y":332},{"g":"b19","x":355,"y":320}
]},"mark":{"type":"line","color":"#1a2a10","opacity":0.72,"strokeWidth":2.2,"interpolate":"monotone"},"encoding":{"detail":{"field":"g"}}},
{"data":{"values":[{"x":277,"y":819},{"x":394,"y":884},{"x":510,"y":950},{"x":627,"y":1017},{"x":743,"y":1083},{"x":826,"y":1051},{"x":908,"y":1017},{"x":991,"y":984},{"x":1074,"y":951},{"x":1155,"y":919},{"x":1238,"y":887},{"x":1319,"y":854},{"x":233,"y":249},{"x":250,"y":468},{"x":258,"y":576},{"x":267,"y":685}]},"mark":{"type":"point","filled":true,"color":"#111111","size":70,"opacity":1}},
{"data":{"values":[{"x":241,"y":352},{"x":792,"y":312},{"x":1335,"y":549},{"x":741,"y":753}]},"mark":{"type":"point","filled":true,"color":"#c00000","size":560,"opacity":1}},
{"data":{"values":[{"t":"10","x":237,"y":841},{"t":"8","x":362,"y":907},{"t":"6","x":479,"y":974},{"t":"4","x":597,"y":1039},{"t":"2","x":714,"y":1106},{"t":"0.1","x":786,"y":1106},{"t":"0.2","x":864,"y":1073},{"t":"0.3","x":948,"y":1040},{"t":"0.4","x":1031,"y":1008},{"t":"0.5","x":1114,"y":975},{"t":"0.6","x":1197,"y":941},{"t":"0.7","x":1280,"y":909},{"t":"0.8","x":1362,"y":877},{"t":"100","x":183,"y":230},{"t":"90","x":201,"y":338},{"t":"80","x":210,"y":447},{"t":"70","x":219,"y":555},{"t":"60","x":224,"y":666}]},"mark":{"type":"text","font":"Open Sans","fontSize":27,"color":"#6e6e6e","baseline":"middle"},"encoding":{"text":{"field":"t"}}},
{"data":{"values":[{"t":"A: Methylene Blue(MB)","x":1487,"y":90},{"t":"D: PH","x":390,"y":1075},{"t":"B: Dose(g)","x":1077,"y":1135}]},"mark":{"type":"text","font":"Liberation Serif","fontWeight":"bold","fontSize":63,"color":"#000000","baseline":"middle"},"encoding":{"text":{"field":"t"}}},
{"data":{"values":[{"t":"Degradation (%)","x":139,"y":533}]},"mark":{"type":"text","font":"Liberation Serif","fontWeight":"bold","fontSize":54,"angle":270,"color":"#000000","baseline":"middle"},"encoding":{"text":{"field":"t"}}}
]},
{"width":1257,"height":833,"title":{"text":"Degradation (%)","font":"Liberation Serif","fontWeight":"bold","fontSize":54,"color":"#111111","anchor":"middle","dx":-133,"offset":27},"view":{"stroke":"#5a8a8a","strokeWidth":2},"encoding":{"x":{"field":"b","type":"quantitative","scale":{"domain":[0.1,0.8],"nice":false,"zero":false},"axis":{"values":[0.1,0.2,0.3,0.4,0.5,0.6,0.7,0.8],"format":".1f","grid":false,"title":"Dose(g)","titleFont":"Liberation Serif","titleFontWeight":"bold","titleFontSize":62,"titleColor":"#000000","titleX":622,"titleY":133,"titleBaseline":"middle","labelFont":"Open Sans","labelFontSize":26,"labelColor":"#666666","tickSize":20,"tickColor":"#999999","tickWidth":3,"domain":false,"labelPadding":10}},"y":{"field":"p","type":"quantitative","scale":{"domain":[2,10],"nice":false,"zero":false},"axis":{"values":[2,4,6,8,10],"grid":false,"title":"PH","titleFont":"Liberation Serif","titleFontWeight":"bold","titleFontSize":58,"titleColor":"#000000","titleAngle":0,"titleX":-161,"titleY":338,"titleAlign":"center","titleBaseline":"middle","labelFont":"Open Sans","labelFontSize":26,"labelColor":"#666666","tickSize":30,"tickColor":"#999999","tickWidth":3,"domain":false,"labelPadding":12}}},"layer":[
{"data":{"name":"heatA"},"mark":{"type":"rect","width":92,"height":54,"clip":true},"encoding":{"color":{"field":"d","type":"quantitative","legend":null,"scale":{"domain":[67,72,78,86.5,89,92,96],"range":["#0070ff","#00ffff","#00f000","#00f000","#ffff00","#ff9000","#ff0000"]}}}},
{"data":{"name":"heatA"},"mark":{"type":"rect","width":140,"height":82,"clip":true,"opacity":0.5},"encoding":{"color":{"field":"d","type":"quantitative","legend":null,"scale":{"domain":[67,72,78,86.5,89,92,96],"range":["#0070ff","#00ffff","#00f000","#00f000","#ffff00","#ff9000","#ff0000"]}}}},
{"data":{"values":[{"g":"90","b":0.1,"p":4.82},{"g":"90","b":0.233,"p":3.92},{"g":"90","b":0.398,"p":3.45},{"g":"90","b":0.508,"p":3.61},{"g":"90","b":0.591,"p":4.13},{"g":"90","b":0.632,"p":5},{"g":"90","b":0.643,"p":6},{"g":"90","b":0.618,"p":7.38},{"g":"90","b":0.563,"p":8.42},{"g":"90","b":0.481,"p":9.18},{"g":"90","b":0.354,"p":10},{"g":"80a","b":0.627,"p":10},{"g":"80a","b":0.7,"p":9.11},{"g":"80a","b":0.756,"p":8.28},{"g":"80a","b":0.8,"p":7.38},{"g":"80b","b":0.1,"p":2.7},{"g":"80b","b":0.228,"p":2},{"g":"80c","b":0.679,"p":2},{"g":"80c","b":0.8,"p":3.26}]},"mark":{"type":"line","color":"#2c3a1a","strokeWidth":2.5,"interpolate":"cardinal"},"encoding":{"detail":{"field":"g"},"order":{"value":null}}},
{"data":{"values":[{"b":0.724,"p":8.9,"t":"80"},{"b":0.629,"p":5.01,"t":"90"},{"b":0.16,"p":2.45,"t":"80"},{"b":0.748,"p":2.66,"t":"80"}]},"mark":{"type":"rect","width":36,"height":26,"fill":"white","stroke":"#777777","strokeWidth":2,"cornerRadius":3}},
{"data":{"values":[{"b":0.724,"p":8.9,"t":"80"},{"b":0.629,"p":5.01,"t":"90"},{"b":0.16,"p":2.45,"t":"80"},{"b":0.748,"p":2.66,"t":"80"}]},"mark":{"type":"text","font":"Open Sans","fontSize":14,"color":"#555555","baseline":"middle"},"encoding":{"text":{"field":"t"}}},
{"data":{"values":[{"b":0.746,"p":8.59,"t":"80"},{"b":0.618,"p":4.53,"t":"90"},{"b":0.195,"p":2.29,"t":"80"},{"b":0.73,"p":2.47,"t":"80"}]},"mark":{"type":"text","font":"Open Sans","fontSize":40,"color":"#2c3a1a","baseline":"middle"},"encoding":{"text":{"field":"t"}}},
{"data":{"values":[{"b":0.1,"p":2},{"b":0.8,"p":2},{"b":0.1,"p":10},{"b":0.8,"p":10},{"b":0.45,"p":6}]},"mark":{"type":"point","filled":true,"color":"#b80000","size":480,"opacity":1,"clip":false}},
{"data":{"values":[{"b":0.43,"p":6,"t":"5"}]},"mark":{"type":"text","font":"Open Sans","fontSize":14,"color":"#7a2000","baseline":"middle"},"encoding":{"text":{"field":"t"}}}
]},
{"width":1700,"height":775,"resolve":{"scale":{"color":"independent"}},"encoding":{"x":{"field":"x","type":"quantitative","scale":{"domain":[0,1700],"nice":false,"zero":false},"axis":null},"y":{"field":"y","type":"quantitative","scale":{"domain":[2164,1389],"nice":false,"zero":false},"axis":null}},"layer":[
{"data":{"values":[{"g":"l95","x":149,"y":1439},{"g":"l95","x":721,"y":1230},{"g":"l90","x":159,"y":1496},{"g":"l90","x":737,"y":1268},{"g":"l85","x":170,"y":1557},{"g":"l85","x":737,"y":1328},{"g":"l80","x":181,"y":1617},{"g":"l80","x":730,"y":1387},{"g":"l75","x":191,"y":1674},{"g":"l75","x":730,"y":1448},{"g":"l70","x":202,"y":1731},{"g":"l70","x":730,"y":1505},{"g":"r95","x":765,"y":1230},{"g":"r95","x":1201,"y":1525},{"g":"r90","x":737,"y":1268},{"g":"r90","x":1192,"y":1580},{"g":"r85","x":737,"y":1328},{"g":"r85","x":1180,"y":1639},{"g":"r80","x":730,"y":1387},{"g":"r80","x":1168,"y":1697},{"g":"r75","x":730,"y":1448},{"g":"r75","x":1156,"y":1756},{"g":"r70","x":730,"y":1505},{"g":"r70","x":1148,"y":1814},{"g":"c1","x":149,"y":1439},{"g":"c1","x":219,"y":1817},{"g":"c2","x":737,"y":1230},{"g":"c2","x":730,"y":1505},{"g":"c3","x":1201,"y":1525},{"g":"c3","x":1130,"y":1900},{"g":"v1","x":234,"y":1408},{"g":"v1","x":260,"y":1706},{"g":"v2","x":319,"y":1375},{"g":"v2","x":340,"y":1672},{"g":"v3","x":403,"y":1342},{"g":"v3","x":420,"y":1637},{"g":"v4","x":488,"y":1311},{"g":"v4","x":500,"y":1603},{"g":"v5","x":570,"y":1278},{"g":"v5","x":580,"y":1569},{"g":"v6","x":654,"y":1245},{"g":"v6","x":655,"y":1537},{"g":"w1","x":853,"y":1289},{"g":"w1","x":835,"y":1583},{"g":"w2","x":969,"y":1366},{"g":"w2","x":945,"y":1664},{"g":"w3","x":1086,"y":1448},{"g":"w3","x":1060,"y":1749}]},"mark":{"type":"line","color":"#8c8c8c","strokeWidth":3},"encoding":{"detail":{"field":"g"}}},
{"data":{"values":[{"x":219,"y":1817,"y2":1817},{"x":598,"y":1652,"y2":2174},{"x":745,"y":1588,"y2":2098},{"x":1130,"y":1900,"y2":1900}]},"mark":{"type":"area","color":"#666666"},"encoding":{"y2":{"field":"y2"}}},
{"data":{"values":[{"g":"a","d":90,"x":251,"y":1843},{"g":"a","d":90,"x":343,"y":1779},{"g":"b","d":85,"x":279,"y":1873},{"g":"b","d":85,"x":363,"y":1814},{"g":"c","d":80,"x":315,"y":1904},{"g":"c","d":80,"x":395,"y":1854},{"g":"e","d":78,"x":363,"y":1948},{"g":"e","d":78,"x":430,"y":1904},{"g":"f","d":76,"x":423,"y":2002},{"g":"f","d":76,"x":486,"y":1968},{"g":"h","d":76,"x":869,"y":2036},{"g":"h","d":76,"x":917,"y":1979},{"g":"h","d":76,"x":973,"y":1929},{"g":"h","d":76,"x":1068,"y":1861}]},"mark":{"type":"line","strokeWidth":6,"interpolate":"monotone"},"encoding":{"detail":{"field":"g"},"color":{"field":"d","type":"ordinal","legend":null,"scale":{"domain":[90,85,80,78,76],"range":["#e8c080","#90d060","#10b040","#00b090","#0090a8"]}}}},
{"data":{"values":[
{"d":92,"x":155,"y":1481,"y2":1481},{"d":92,"x":163,"y":1480,"y2":1498},{"d":92,"x":207,"y":1473,"y2":1559},{"d":92,"x":239,"y":1468,"y2":1614},
{"d":90,"x":183,"y":1521,"y2":1526},{"d":90,"x":215,"y":1498,"y2":1572},{"d":90,"x":239,"y":1468,"y2":1614},{"d":90,"x":295,"y":1459,"y2":1705},{"d":90,"x":343,"y":1452,"y2":1785},
{"d":88,"x":211,"y":1567,"y2":1567},{"d":88,"x":279,"y":1505,"y2":1680},{"d":88,"x":343,"y":1452,"y2":1785},{"d":88,"x":383,"y":1446,"y2":1843},
{"d":86,"x":219,"y":1578,"y2":1580},{"d":86,"x":303,"y":1513,"y2":1718},{"d":86,"x":343,"y":1480,"y2":1785},{"d":86,"x":383,"y":1446,"y2":1843},{"d":86,"x":470,"y":1433,"y2":1950},
{"d":84,"x":231,"y":1609,"y2":1610},{"d":84,"x":303,"y":1555,"y2":1718},{"d":84,"x":375,"y":1505,"y2":1830},{"d":84,"x":470,"y":1433,"y2":1950},{"d":84,"x":510,"y":1427,"y2":1990},
{"d":82,"x":247,"y":1628,"y2":1628},{"d":82,"x":271,"y":1613,"y2":1666},{"d":82,"x":343,"y":1551,"y2":1785},{"d":82,"x":438,"y":1483,"y2":1913},{"d":82,"x":510,"y":1425,"y2":1990},{"d":82,"x":594,"y":1414,"y2":2064},{"d":82,"x":730,"y":1393,"y2":1984},{"d":82,"x":757,"y":1424,"y2":1968},{"d":82,"x":800,"y":1478,"y2":1943},
{"d":81,"x":269,"y":1660,"y2":1664},{"d":81,"x":351,"y":1614,"y2":1797},{"d":81,"x":458,"y":1538,"y2":1938},{"d":81,"x":554,"y":1477,"y2":2026},{"d":81,"x":650,"y":1430,"y2":2030},{"d":81,"x":735,"y":1400,"y2":1981},{"d":81,"x":757,"y":1424,"y2":1968},{"d":81,"x":800,"y":1478,"y2":1943},
{"d":79,"x":291,"y":1697,"y2":1699},{"d":79,"x":359,"y":1678,"y2":1808},{"d":79,"x":478,"y":1594,"y2":1959},{"d":79,"x":598,"y":1529,"y2":2060},{"d":79,"x":702,"y":1460,"y2":2000},{"d":79,"x":757,"y":1424,"y2":1968},{"d":79,"x":800,"y":1478,"y2":1943},
{"d":78,"x":317,"y":1740,"y2":1745},{"d":78,"x":379,"y":1706,"y2":1836},{"d":78,"x":498,"y":1609,"y2":1979},{"d":78,"x":594,"y":1553,"y2":2064},{"d":78,"x":610,"y":1540,"y2":2054},{"d":78,"x":710,"y":1480,"y2":1996},{"d":78,"x":777,"y":1450,"y2":1956},{"d":78,"x":800,"y":1478,"y2":1943},
{"d":77,"x":343,"y":1785,"y2":1785},{"d":77,"x":399,"y":1735,"y2":1864},{"d":77,"x":518,"y":1624,"y2":1998},{"d":77,"x":594,"y":1571,"y2":2064},{"d":77,"x":622,"y":1555,"y2":2047},{"d":77,"x":717,"y":1498,"y2":1992},{"d":77,"x":797,"y":1475,"y2":1945},{"d":77,"x":845,"y":1536,"y2":1916},{"d":77,"x":893,"y":1594,"y2":1888},{"d":77,"x":957,"y":1647,"y2":1850},{"d":77,"x":1036,"y":1693,"y2":1803},{"d":77,"x":1164,"y":1727,"y2":1727},
{"d":76,"x":359,"y":1808,"y2":1808},{"d":76,"x":422,"y":1760,"y2":1893},{"d":76,"x":530,"y":1656,"y2":2007},{"d":76,"x":594,"y":1605,"y2":2064},{"d":76,"x":630,"y":1584,"y2":2042},{"d":76,"x":729,"y":1528,"y2":1985},{"d":76,"x":817,"y":1503,"y2":1931},{"d":76,"x":845,"y":1536,"y2":1916},{"d":76,"x":893,"y":1594,"y2":1888},{"d":76,"x":957,"y":1647,"y2":1840},{"d":76,"x":1036,"y":1693,"y2":1775},{"d":76,"x":1090,"y":1712,"y2":1738},{"d":76,"x":1100,"y":1715,"y2":1718},
{"d":75,"x":375,"y":1832,"y2":1832},{"d":75,"x":446,"y":1785,"y2":1923},{"d":75,"x":542,"y":1689,"y2":2017},{"d":75,"x":594,"y":1640,"y2":2064},{"d":75,"x":638,"y":1613,"y2":2038},{"d":75,"x":741,"y":1559,"y2":1978},{"d":75,"x":837,"y":1528,"y2":1921},{"d":75,"x":893,"y":1594,"y2":1888},{"d":75,"x":957,"y":1647,"y2":1830},{"d":75,"x":1036,"y":1693,"y2":1745},{"d":75,"x":1060,"y":1700,"y2":1715},
{"d":74.5,"x":406,"y":1870,"y2":1874},{"d":74.5,"x":515,"y":1737,"y2":1985},{"d":74.5,"x":594,"y":1700,"y2":2064},{"d":74.5,"x":650,"y":1645,"y2":2030},{"d":74.5,"x":749,"y":1590,"y2":1972},{"d":74.5,"x":817,"y":1560,"y2":1915},{"d":74.5,"x":880,"y":1580,"y2":1870},{"d":74.5,"x":957,"y":1647,"y2":1820},{"d":74.5,"x":1030,"y":1690,"y2":1745},{"d":74.5,"x":1050,"y":1699,"y2":1699},
{"d":74,"x":438,"y":1914,"y2":1914},{"d":74,"x":590,"y":1766,"y2":2061},{"d":74,"x":662,"y":1682,"y2":2024},{"d":74,"x":757,"y":1625,"y2":1968},{"d":74,"x":797,"y":1600,"y2":1905},{"d":74,"x":877,"y":1574,"y2":1850},{"d":74,"x":957,"y":1647,"y2":1810},{"d":74,"x":1020,"y":1685,"y2":1740},{"d":74,"x":1040,"y":1696,"y2":1696},
{"d":73,"x":470,"y":1925,"y2":1950},{"d":73,"x":594,"y":1800,"y2":2064},{"d":73,"x":700,"y":1900,"y2":2001},{"d":73,"x":760,"y":1960,"y2":1966},
{"d":72,"x":850,"y":1545,"y2":1590},{"d":72,"x":900,"y":1600,"y2":1665},{"d":72,"x":957,"y":1647,"y2":1700},{"d":72,"x":1000,"y":1672,"y2":1690},{"d":72,"x":1010,"y":1678,"y2":1678},
{"d":71,"x":530,"y":1985,"y2":2008},{"d":71,"x":594,"y":1900,"y2":2064},{"d":71,"x":660,"y":1960,"y2":2027},{"d":71,"x":690,"y":2008,"y2":2008}
]},"mark":{"type":"area"},"encoding":{"y2":{"field":"y2"},"color":{"field":"d","type":"ordinal","legend":null,"scale":{"domain":[92,90,88,86,84,82,81,79,78,77,76,75,74.5,74,73,72,71],"range":["#ff8a70","#ffae78","#ffe27a","#ffff66","#a8f040","#00ee00","#00f048","#00f090","#00f8c8","#00ffff","#00d8ff","#00b4ff","#0096ff","#0078ff","#0048ff","#0048ff","#0008f0"]}}}},
{"data":{"values":[
{"g":"t1","x":167,"y":1504},{"g":"t1","x":466,"y":1468},{"g":"t1","x":762,"y":1431},{"g":"t2","x":179,"y":1528},{"g":"t2","x":490,"y":1498},{"g":"t2","x":793,"y":1467},{"g":"t3","x":193,"y":1552},{"g":"t3","x":513,"y":1527},{"g":"t3","x":822,"y":1500},{"g":"t4","x":208,"y":1577},{"g":"t4","x":536,"y":1555},{"g":"t4","x":851,"y":1532},{"g":"t5","x":224,"y":1602},{"g":"t5","x":559,"y":1583},{"g":"t5","x":878,"y":1560},{"g":"t6","x":241,"y":1629},{"g":"t6","x":581,"y":1610},{"g":"t6","x":905,"y":1587},{"g":"t7","x":259,"y":1655},{"g":"t7","x":604,"y":1635},{"g":"t7","x":930,"y":1612},{"g":"t8","x":278,"y":1683},{"g":"t8","x":626,"y":1661},{"g":"t8","x":954,"y":1634},{"g":"t9","x":299,"y":1711},{"g":"t9","x":648,"y":1685},{"g":"t9","x":978,"y":1654},{"g":"t10","x":320,"y":1745},{"g":"t10","x":670,"y":1708},{"g":"t10","x":1000,"y":1672},{"g":"t11","x":343,"y":1783},{"g":"t11","x":692,"y":1731},{"g":"t11","x":1021,"y":1688},{"g":"t12","x":366,"y":1816},{"g":"t12","x":713,"y":1752},{"g":"t12","x":1041,"y":1701},{"g":"t13","x":391,"y":1852},{"g":"t13","x":735,"y":1773},{"g":"t13","x":1060,"y":1712},{"g":"t14","x":417,"y":1885},{"g":"t14","x":756,"y":1793},{"g":"t14","x":1078,"y":1721},{"g":"t15","x":443,"y":1917},{"g":"t15","x":777,"y":1812},{"g":"t15","x":1095,"y":1727},{"g":"t16","x":471,"y":1950},{"g":"t16","x":798,"y":1831},{"g":"t16","x":1111,"y":1732},{"g":"t17","x":500,"y":1980},{"g":"t17","x":818,"y":1848},{"g":"t17","x":1126,"y":1734},{"g":"t18","x":531,"y":2008},{"g":"t18","x":839,"y":1865},{"g":"t18","x":1140,"y":1734},{"g":"t19","x":562,"y":2036},{"g":"t19","x":859,"y":1881},{"g":"t19","x":1152,"y":1732},
{"g":"s1","x":184,"y":1477},{"g":"s1","x":355,"y":1737},{"g":"s1","x":622,"y":2047},{"g":"s2","x":212,"y":1472},{"g":"s2","x":392,"y":1733},{"g":"s2","x":651,"y":2030},{"g":"s3","x":241,"y":1468},{"g":"s3","x":427,"y":1730},{"g":"s3","x":680,"y":2013},{"g":"s4","x":270,"y":1463},{"g":"s4","x":462,"y":1726},{"g":"s4","x":708,"y":1997},{"g":"s5","x":299,"y":1459},{"g":"s5","x":498,"y":1723},{"g":"s5","x":736,"y":1980},{"g":"s6","x":327,"y":1455},{"g":"s6","x":532,"y":1720},{"g":"s6","x":765,"y":1963},{"g":"s7","x":356,"y":1450},{"g":"s7","x":567,"y":1716},{"g":"s7","x":793,"y":1946},{"g":"s8","x":385,"y":1446},{"g":"s8","x":602,"y":1713},{"g":"s8","x":822,"y":1929},{"g":"s9","x":414,"y":1441},{"g":"s9","x":636,"y":1709},{"g":"s9","x":850,"y":1912},{"g":"s10","x":442,"y":1437},{"g":"s10","x":670,"y":1706},{"g":"s10","x":879,"y":1896},{"g":"s11","x":471,"y":1433},{"g":"s11","x":704,"y":1703},{"g":"s11","x":907,"y":1879},{"g":"s12","x":500,"y":1428},{"g":"s12","x":738,"y":1699},{"g":"s12","x":936,"y":1862},{"g":"s13","x":529,"y":1424},{"g":"s13","x":771,"y":1696},{"g":"s13","x":964,"y":1845},{"g":"s14","x":557,"y":1419},{"g":"s14","x":804,"y":1692},{"g":"s14","x":993,"y":1828},{"g":"s15","x":586,"y":1415},{"g":"s15","x":838,"y":1689},{"g":"s15","x":1021,"y":1811},{"g":"s16","x":615,"y":1411},{"g":"s16","x":870,"y":1686},{"g":"s16","x":1050,"y":1794},{"g":"s17","x":644,"y":1406},{"g":"s17","x":903,"y":1682},{"g":"s17","x":1078,"y":1778},{"g":"s18","x":672,"y":1402},{"g":"s18","x":936,"y":1679},{"g":"s18","x":1107,"y":1761},{"g":"s19","x":701,"y":1397},{"g":"s19","x":968,"y":1675},{"g":"s19","x":1135,"y":1744}
]},"mark":{"type":"line","color":"#10305a","opacity":0.68,"strokeWidth":2.2,"interpolate":"monotone"},"encoding":{"detail":{"field":"g"}}},
{"data":{"values":[{"x":219,"y":1817},{"x":313,"y":1906},{"x":408,"y":1996},{"x":502,"y":2085},{"x":598,"y":2174},{"x":1130,"y":1900},{"x":1056,"y":1939},{"x":979,"y":1978},{"x":902,"y":2018},{"x":827,"y":2056},{"x":749,"y":2096},{"x":674,"y":2135},{"x":149,"y":1439},{"x":170,"y":1557},{"x":181,"y":1617},{"x":191,"y":1674},{"x":202,"y":1731}]},"mark":{"type":"point","filled":true,"color":"#111111","size":70,"opacity":1}},
{"data":{"values":[{"x":594,"y":2064}]},"mark":{"type":"point","filled":true,"color":"#c00000","size":480,"opacity":1}},
{"data":{"values":[{"x":670,"y":1708}]},"mark":{"type":"point","filled":true,"color":"#a01020","size":120,"opacity":1}},
{"data":{"values":[{"x":156,"y":1481},{"x":1166,"y":1731}]},"mark":{"type":"point","filled":true,"color":"#f4b0b0","stroke":"#e08080","strokeWidth":2,"size":340,"opacity":1}},
{"data":{"values":[{"t":"2","x":190,"y":1837},{"t":"4","x":285,"y":1927},{"t":"6","x":381,"y":2017},{"t":"8","x":477,"y":2105},{"t":"10","x":562,"y":2194},{"t":"0.8","x":635,"y":2194},{"t":"0.7","x":711,"y":2155},{"t":"0.6","x":788,"y":2116},{"t":"0.5","x":863,"y":2077},{"t":"0.4","x":941,"y":2037},{"t":"0.3","x":1016,"y":1998},{"t":"0.2","x":1091,"y":1960},{"t":"0.1","x":1168,"y":1921},{"t":"95","x":112,"y":1422},{"t":"90","x":122,"y":1483},{"t":"85","x":133,"y":1539},{"t":"80","x":143,"y":1599},{"t":"75","x":155,"y":1657},{"t":"70","x":166,"y":1716}]},"mark":{"type":"text","font":"Open Sans","fontSize":27,"color":"#6e6e6e","baseline":"middle"},"encoding":{"text":{"field":"t"}}},
{"data":{"values":[{"t":"B: Methyl Orange (MO)","x":1354,"y":1262},{"t":"D: PH","x":159,"y":2039},{"t":"B: Dose(g)","x":921,"y":2221}]},"mark":{"type":"text","font":"Liberation Serif","fontWeight":"bold","fontSize":63,"color":"#000000","baseline":"middle"},"encoding":{"text":{"field":"t"}}},
{"data":{"values":[{"t":"Degradation (%)","x":68,"y":1680}]},"mark":{"type":"text","font":"Liberation Serif","fontWeight":"bold","fontSize":54,"angle":270,"color":"#000000","baseline":"middle"},"encoding":{"text":{"field":"t"}}}
]},
{"width":1255,"height":775,"title":{"text":"Degradation (%)","font":"Liberation Serif","fontWeight":"bold","fontSize":54,"color":"#111111","anchor":"middle","dx":-251,"offset":46},"encoding":{"x":{"field":"b","type":"quantitative","scale":{"domain":[0.1,0.8],"range":[8,1255],"nice":false,"zero":false},"axis":{"values":[0.1,0.2,0.3,0.4,0.5,0.6,0.7,0.8],"format":".1f","grid":false,"title":"Dose(g)","titleFont":"Liberation Serif","titleFontWeight":"bold","titleFontSize":62,"titleColor":"#000000","titleX":622,"titleY":102,"titleBaseline":"middle","labelFont":"Open Sans","labelFontSize":26,"labelColor":"#666666","tickSize":20,"tickColor":"#999999","tickWidth":3,"domain":false,"labelPadding":10}},"y":{"field":"p","type":"quantitative","scale":{"domain":[2,10],"nice":false,"zero":false},"axis":{"values":[2,4,6,8,10],"grid":false,"title":"PH","titleFont":"Liberation Serif","titleFontWeight":"bold","titleFontSize":58,"titleColor":"#000000","titleAngle":0,"titleX":-197,"titleY":470,"titleAlign":"center","titleBaseline":"middle","labelFont":"Open Sans","labelFontSize":26,"labelColor":"#666666","tickSize":24,"tickColor":"#999999","tickWidth":3,"domain":false,"labelPadding":12,"offset":-8}}},"layer":[
{"data":{"name":"heatB"},"mark":{"type":"rect","width":91,"height":50,"clip":true},"encoding":{"color":{"field":"d","type":"quantitative","legend":null,"scale":{"domain":[71,74.5,77,81,84.5,87,90,92],"range":["#0000ff","#0070ff","#00ffff","#00f000","#00f000","#ffff66","#ffa070","#ff7070"]}}}},
{"data":{"name":"heatB"},"mark":{"type":"rect","width":138,"height":76,"clip":true,"opacity":0.5},"encoding":{"color":{"field":"d","type":"quantitative","legend":null,"scale":{"domain":[71,74.5,77,81,84.5,87,90,92],"range":["#0000ff","#0070ff","#00ffff","#00f000","#00f000","#ffff66","#ffa070","#ff7070"]}}}},
{"data":{"values":[{"b":0.0955,"b2":0.1,"p":2,"p2":10}]},"mark":{"type":"rect","fill":"white"},"encoding":{"x2":{"field":"b2"},"y2":{"field":"p2"}}},
{"data":{"values":[{"g":"75a","b":0.1,"p":8.43},{"g":"75a","b":0.285,"p":8.53},{"g":"75a","b":0.396,"p":8.85},{"g":"75a","b":0.508,"p":9.43},{"g":"75a","b":0.58,"p":10},{"g":"75b","b":0.1,"p":4.1},{"g":"75b","b":0.23,"p":5.35},{"g":"75b","b":0.369,"p":6.29},{"g":"75b","b":0.508,"p":6.77},{"g":"75b","b":0.619,"p":6.91},{"g":"75b","b":0.8,"p":6.91},{"g":"80","b":0.119,"p":2},{"g":"80","b":0.23,"p":2.72},{"g":"80","b":0.396,"p":3.7},{"g":"80","b":0.563,"p":4.31},{"g":"80","b":0.8,"p":4.87},{"g":"85","b":0.38,"p":2},{"g":"85","b":0.508,"p":2.59},{"g":"85","b":0.619,"p":3},{"g":"85","b":0.8,"p":3.49},{"g":"90","b":0.68,"p":2},{"g":"90","b":0.8,"p":2.38}]},"mark":{"type":"line","color":"#14283c","strokeWidth":2.5,"interpolate":"monotone"},"encoding":{"detail":{"field":"g"}}},
{"data":{"values":[{"b":0.384,"p":8.93,"t":"75"},{"b":0.389,"p":6.42,"t":"75"},{"b":0.433,"p":3.87,"t":"80"},{"b":0.581,"p":2.95,"t":"85"},{"b":0.738,"p":2.3,"t":"90"}]},"mark":{"type":"rect","width":36,"height":26,"fill":"white","stroke":"#777777","strokeWidth":2,"cornerRadius":3}},
{"data":{"values":[{"b":0.384,"p":8.93,"t":"75"},{"b":0.389,"p":6.42,"t":"75"},{"b":0.433,"p":3.87,"t":"80"},{"b":0.581,"p":2.95,"t":"85"},{"b":0.738,"p":2.3,"t":"90"}]},"mark":{"type":"text","font":"Open Sans","fontSize":14,"color":"#555555","baseline":"middle"},"encoding":{"text":{"field":"t"}}},
{"data":{"values":[{"b":0.344,"p":8.74,"t":"75"},{"b":0.435,"p":6.54,"t":"75"},{"b":0.477,"p":3.91,"t":"80"},{"b":0.623,"p":2.97,"t":"85"},{"b":0.708,"p":2.16,"t":"90"}]},"mark":{"type":"text","font":"Open Sans","fontSize":40,"color":"#14283c","baseline":"middle"},"encoding":{"text":{"field":"t"}}},
{"data":{"values":[{"b":0.1,"p":2},{"b":0.8,"p":2},{"b":0.1,"p":10},{"b":0.8,"p":10},{"b":0.45,"p":6}]},"mark":{"type":"point","filled":true,"color":"#c00000","size":400,"opacity":1}},
{"data":{"values":[{"b":0.43,"p":6,"t":"1"}]},"mark":{"type":"text","font":"Open Sans","fontSize":14,"color":"#301020","baseline":"middle"},"encoding":{"text":{"field":"t"}}}
]}
]}
